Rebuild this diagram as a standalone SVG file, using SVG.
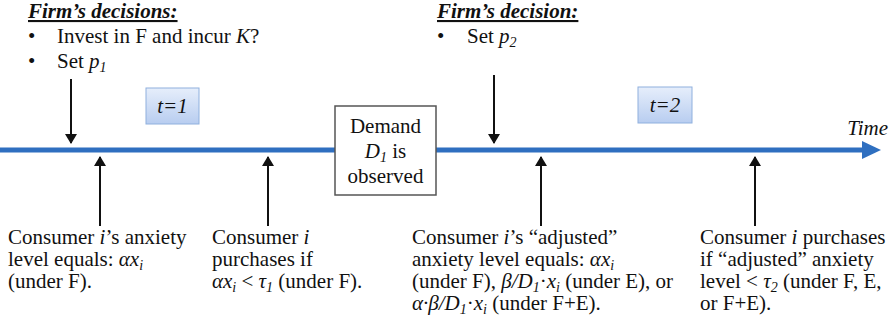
<svg xmlns="http://www.w3.org/2000/svg" width="894" height="326" viewBox="0 0 894 326" font-family="'Liberation Serif', 'Times New Roman', Tinos, 'DejaVu Serif', serif">
  <style>
    text { font-family: "Liberation Serif", "Times New Roman", Tinos, "DejaVu Serif", serif; font-size: 21px; fill: #111; }
    .hdr { font-weight: bold; font-style: italic; text-decoration: underline; }
    .it { font-style: italic; }
    .sub { font-size: 14px; font-style: italic; }
    .tick { stroke: #111; stroke-width: 2; fill: none; }
    .tbox { fill: url(#tfill); stroke: #8fb0de; stroke-width: 1; }
  </style>
  <defs>
    <linearGradient id="tfill" x1="0" y1="0" x2="0" y2="1">
      <stop offset="0" stop-color="#e6eefb"/>
      <stop offset="1" stop-color="#b8cdf0"/>
    </linearGradient>
    <marker id="ah" viewBox="0 0 10 12" refX="9" refY="6" markerWidth="10" markerHeight="12" markerUnits="userSpaceOnUse" orient="auto">
      <path d="M0,0 L10,6 L0,12 Z" fill="#111"/>
    </marker>
  </defs>
  <rect width="894" height="326" fill="#fff"/>

  <!-- timeline -->
  <g id="connectors">
    <line x1="0" y1="150" x2="864" y2="150" stroke="#2f6fc0" stroke-width="5"/>
    <path d="M862,141 L881,150 L862,159 Z" fill="#2f6fc0"/>
    <!-- firm decision ticks -->
    <line class="tick" x1="71" y1="79" x2="71" y2="143" marker-end="url(#ah)"/>
    <line class="tick" x1="494" y1="75" x2="494" y2="143" marker-end="url(#ah)"/>
    <!-- consumer ticks -->
    <line class="tick" x1="100" y1="226" x2="100" y2="157" marker-end="url(#ah)"/>
    <line class="tick" x1="268" y1="226" x2="268" y2="157" marker-end="url(#ah)"/>
    <line class="tick" x1="541" y1="226" x2="541" y2="157" marker-end="url(#ah)"/>
    <line class="tick" x1="755" y1="226" x2="755" y2="157" marker-end="url(#ah)"/>
  </g>

  <g id="time-label">
    <text x="888" y="135" class="it" text-anchor="end">Time</text>
  </g>

  <g id="period1">
    <rect class="tbox" x="146" y="88" width="53" height="36"/>
    <text x="172.5" y="113" class="it" text-anchor="middle">t=1</text>
  </g>
  <g id="period2">
    <rect class="tbox" x="638" y="87" width="54" height="36"/>
    <text x="665" y="112" class="it" text-anchor="middle">t=2</text>
  </g>

  <g id="demand">
    <rect x="335" y="106" width="101" height="89" fill="#fff" stroke="#555" stroke-width="1.5"/>
    <text x="385.5" y="133" text-anchor="middle">Demand</text>
    <text x="385.5" y="158" text-anchor="middle"><tspan class="it">D</tspan><tspan class="sub" dy="4">1</tspan><tspan dy="-4"> is</tspan></text>
    <text x="385.5" y="183" text-anchor="middle">observed</text>
  </g>

  <g id="firm1">
    <text x="28" y="18" class="hdr">Firm’s decisions:</text>
    <text x="28" y="43">•</text>
    <text x="57" y="43">Invest in F and incur <tspan class="it">K</tspan>?</text>
    <text x="28" y="68">•</text>
    <text x="57" y="68">Set <tspan class="it">p</tspan><tspan class="sub" dy="4">1</tspan></text>
  </g>

  <g id="firm2">
    <text x="437" y="18" class="hdr">Firm’s decision:</text>
    <text x="437" y="43">•</text>
    <text x="467" y="43">Set <tspan class="it">p</tspan><tspan class="sub" dy="4">2</tspan></text>
  </g>

  <g id="consumer1">
    <text x="8" y="244">Consumer <tspan class="it">i</tspan>’s anxiety</text>
    <text x="8" y="266">level equals: <tspan class="it">αx</tspan><tspan class="sub" dy="4">i</tspan></text>
    <text x="8" y="288">(under F).</text>
  </g>

  <g id="consumer2">
    <text x="212" y="244">Consumer <tspan class="it">i</tspan></text>
    <text x="212" y="266">purchases if</text>
    <text x="212" y="288"><tspan class="it">αx</tspan><tspan class="sub" dy="4">i</tspan><tspan dy="-4"> &lt; </tspan><tspan class="it">τ</tspan><tspan class="sub" dy="4">1</tspan><tspan dy="-4"> (under F).</tspan></text>
  </g>

  <g id="consumer3">
    <text x="412" y="244">Consumer <tspan class="it">i</tspan>’s “adjusted”</text>
    <text x="412" y="266">anxiety level equals: <tspan class="it">αx</tspan><tspan class="sub" dy="4">i</tspan></text>
    <text x="412" y="288">(under F), <tspan class="it">β/D</tspan><tspan class="sub" dy="4">1</tspan><tspan dy="-4">·</tspan><tspan class="it">x</tspan><tspan class="sub" dy="4">i</tspan><tspan dy="-4"> (under E), or</tspan></text>
    <text x="412" y="310"><tspan class="it">α·β/D</tspan><tspan class="sub" dy="4">1</tspan><tspan dy="-4">·</tspan><tspan class="it">x</tspan><tspan class="sub" dy="4">i</tspan><tspan dy="-4"> (under F+E).</tspan></text>
  </g>

  <g id="consumer4">
    <text x="700" y="244">Consumer <tspan class="it">i</tspan> purchases</text>
    <text x="700" y="266">if “adjusted” anxiety</text>
    <text x="700" y="288">level &lt; <tspan class="it">τ</tspan><tspan class="sub" dy="4">2</tspan><tspan dy="-4"> (under F, E,</tspan></text>
    <text x="700" y="310">or F+E).</text>
  </g>
</svg>
